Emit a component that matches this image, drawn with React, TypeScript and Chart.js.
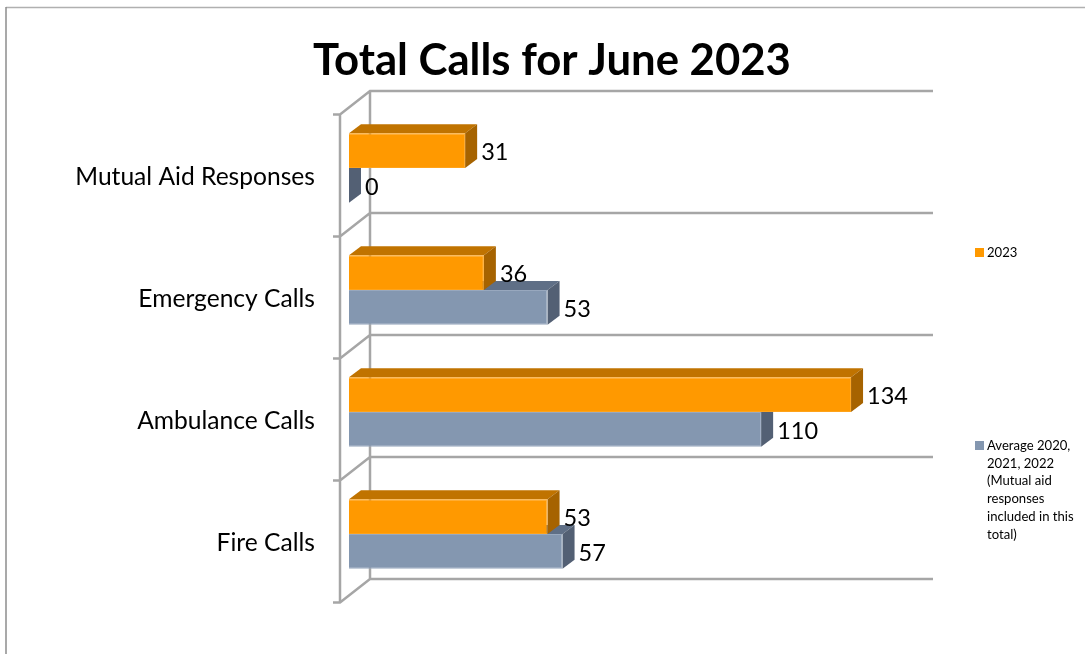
import React, { useEffect, useRef } from "react";
import { Chart, registerables } from "chart.js";

Chart.register(...registerables);

const title = "Total Calls for June 2023";
const categories = ["Mutual Aid Responses", "Emergency Calls", "Ambulance Calls", "Fire Calls"];
const series2023 = [31, 36, 134, 53];
const seriesAverage = [0, 53, 110, 57];
const legend2023 = ["2023"];
const legendAverage = ["Average 2020,", "2021, 2022", "(Mutual aid", "responses", "included in this", "total)"];

const FONT = "Lato, Carlito, sans-serif";
const WALL = "#A6A6A6";
const ORANGE = { front: "#FF9900", edge: "#FFA31A", top: "#C07300", side: "#A66300" };
const BLUE = { front: "#8497B0", edge: "#98A8BE", top: "#5F6F86", side: "#536074" };

const wallsAndFaces = {
  id: "wallsAndFaces",
  afterLayout(chart: any) {
    // the title sits a little right of the page centre
    chart.titleBlock.left += 96.5;
    chart.titleBlock.right += 96.5;
  },
  beforeDraw(chart: any) {
    const { ctx, width, height } = chart;
    ctx.save();
    ctx.strokeStyle = "#B0B0B0";
    ctx.lineWidth = 1.5;
    ctx.beginPath();
    ctx.moveTo(6, 7.5);
    ctx.lineTo(width, 7.5);
    ctx.stroke();
    ctx.strokeStyle = "#8C8C8C";
    ctx.lineWidth = 1.5;
    ctx.beginPath();
    ctx.moveTo(6, height);
    ctx.lineTo(6, 7);
    ctx.stroke();
    ctx.restore();
  },
  beforeDatasetsDraw(chart: any) {
    const { ctx, scales } = chart;
    const x = scales.x;
    const y = scales.y;
    const x0 = x.getPixelForValue(0);
    const xEnd = x.getPixelForValue(150);
    const band = (y.bottom - y.top) / categories.length;

    ctx.save();
    ctx.strokeStyle = WALL;
    ctx.lineWidth = 2.5;
    const frontX = x0 - 9;
    const backX = x0 + 21;
    ctx.beginPath();
    for (let i = 0; i <= categories.length; i++) {
      const edge = y.top + i * band;
      const frontY = edge + 7.5;
      const backY = edge - 16;
      ctx.moveTo(frontX - 7, frontY);
      ctx.lineTo(frontX, frontY);
      ctx.lineTo(backX, backY);
      ctx.lineTo(xEnd + 22, backY);
    }
    ctx.moveTo(frontX, y.top + 7.5);
    ctx.lineTo(frontX, y.bottom + 7.5);
    ctx.moveTo(backX, y.top - 16);
    ctx.lineTo(backX, y.bottom - 16);
    ctx.stroke();

    // depth faces: lower series first, so the upper one covers it
    const dx = 12;
    const dy = 9;
    [1, 0].forEach((index) => {
      const colors = index === 0 ? ORANGE : BLUE;
      chart.getDatasetMeta(index).data.forEach((bar: any) => {
        const t = bar.y - bar.height / 2;
        const b = bar.y + bar.height / 2;
        ctx.fillStyle = colors.top;
        ctx.beginPath();
        ctx.moveTo(bar.base, t);
        ctx.lineTo(bar.base + dx, t - dy);
        ctx.lineTo(bar.x + dx, t - dy);
        ctx.lineTo(bar.x, t);
        ctx.closePath();
        ctx.fill();
        ctx.fillStyle = colors.side;
        ctx.beginPath();
        ctx.moveTo(bar.x, t);
        ctx.lineTo(bar.x + dx, t - dy);
        ctx.lineTo(bar.x + dx, b - dy);
        ctx.lineTo(bar.x, b);
        ctx.closePath();
        ctx.fill();
      });
    });
    ctx.restore();
  },
  afterDatasetsDraw(chart: any) {
    const { ctx } = chart;
    ctx.save();
    ctx.fillStyle = "#000000";
    ctx.font = `23.5px ${FONT}`;
    ctx.textAlign = "left";
    ctx.textBaseline = "middle";
    chart.data.datasets.forEach((ds: any, index: number) => {
      chart.getDatasetMeta(index).data.forEach((bar: any, i: number) => {
        ctx.fillText(String(ds.data[i]), bar.x + 16, bar.y + 2);
      });
    });

    ctx.font = `13.1px ${FONT}`;
    const drawEntry = (lines: string[], color: string, top: number) => {
      ctx.fillStyle = color;
      ctx.fillRect(975, top, 9, 9);
      ctx.fillStyle = "#000000";
      lines.forEach((line, i) => ctx.fillText(line, 987, top + 4.5 + i * 17.8));
    };
    drawEntry(legend2023, ORANGE.front, 248);
    drawEntry(legendAverage, BLUE.front, 441);
    ctx.restore();
  },
};

export default function App() {
  const ref = useRef<HTMLCanvasElement>(null);

  useEffect(() => {
    const chart = new Chart(ref.current as HTMLCanvasElement, {
      type: "bar",
      data: {
        labels: categories,
        datasets: [
          {
            label: legend2023.join(" "),
            data: series2023,
            backgroundColor: ORANGE.front,
            borderColor: ORANGE.edge,
            borderWidth: 1,
          },
          {
            label: legendAverage.join(" "),
            data: seriesAverage,
            backgroundColor: BLUE.front,
            borderColor: BLUE.edge,
            borderWidth: 1,
          },
        ],
      },
      options: {
        indexAxis: "y",
        responsive: false,
        animation: false,
        layout: { padding: { top: 0, left: 0, right: 174, bottom: 59 } },
        datasets: { bar: { categoryPercentage: 0.57, barPercentage: 1 } },
        scales: {
          x: { display: false, min: 0, max: 150 },
          y: {
            grid: { display: false },
            border: { display: false },
            afterFit: (s: any) => {
              s.width = 349;
            },
            ticks: {
              padding: 26,
              labelOffset: 9,
              color: "#000000",
              font: { family: FONT, size: 24.6 },
            },
          },
        },
        plugins: {
          legend: { display: false },
          tooltip: { enabled: false },
          title: {
            display: true,
            text: title,
            color: "#000000",
            font: { family: FONT, size: 43.7, weight: "bold", lineHeight: 1.2 },
            padding: { top: 35, bottom: 19.56 },
          },
        },
      } as any,
      plugins: [wallsAndFaces],
    });
    return () => chart.destroy();
  }, []);

  return (
    <canvas
      ref={ref}
      width={1085}
      height={654}
      style={{ position: "absolute", left: 0, top: 0, display: "block" }}
    />
  );
}
